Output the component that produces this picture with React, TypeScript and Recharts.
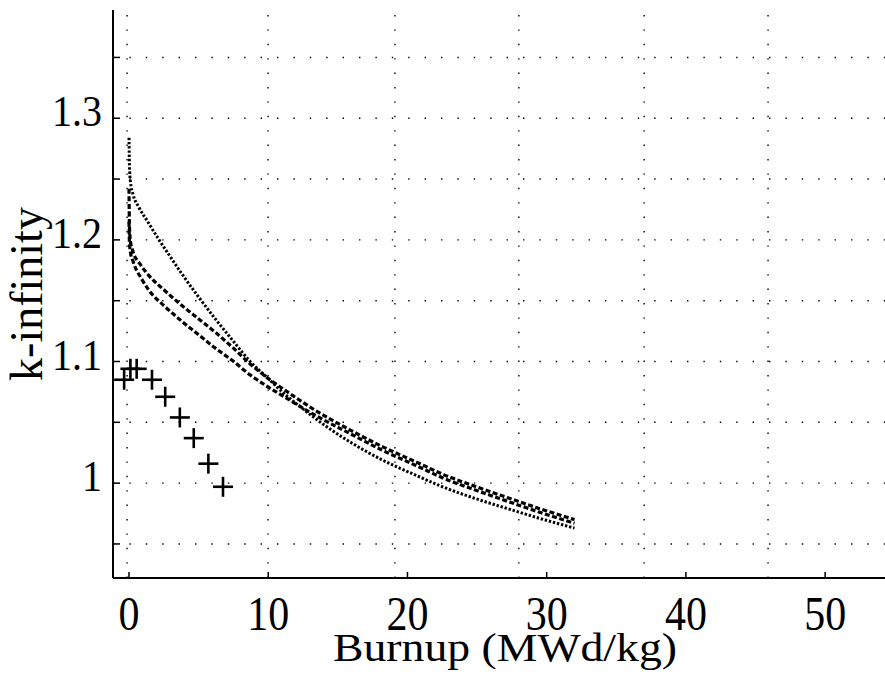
import React from 'react';
import { ComposedChart, Line, Scatter, XAxis, YAxis, ReferenceLine, Label } from 'recharts';

// Dotted curve
const dottedX = [0, 0.03, 0.1, 0.3, 0.7, 1.4, 2.1, 2.8, 3.8, 5, 6.2, 7.4, 8.7, 10, 11, 12.5, 14, 16, 18.2, 20.7, 22.3, 24.7, 27.2, 29.5, 32];
const dottedY = [1.284, 1.262, 1.248, 1.237, 1.227, 1.214, 1.201, 1.189, 1.172, 1.153, 1.135, 1.118, 1.1, 1.086, 1.075, 1.061, 1.048, 1.033, 1.019, 1.006, 0.998, 0.988, 0.979, 0.971, 0.963];

// Upper dashed curve
const dashAX = [0, 0.03, 0.1, 0.3, 0.8, 1.4, 2.6, 3.8, 5, 6.2, 7.4, 8.7, 10, 11, 13.5, 16, 18.2, 20.7, 22.6, 24.7, 27.2, 29.5, 32];
const dashAY = [1.242, 1.212, 1.199, 1.19, 1.18, 1.171, 1.158, 1.146, 1.135, 1.124, 1.112, 1.098, 1.086, 1.078, 1.059, 1.043, 1.03, 1.017, 1.007, 0.998, 0.988, 0.979, 0.97];

// Lower dashed curve
const dashBX = [0, 0.03, 0.1, 0.3, 0.9, 1.4, 2.6, 3.8, 5, 6.2, 7.4, 8.7, 10, 11, 13.5, 16, 18.2, 20.7, 22.6, 24.7, 27.2, 29.5, 32];
const dashBY = [1.215, 1.198, 1.19, 1.182, 1.168, 1.159, 1.145, 1.133, 1.122, 1.111, 1.101, 1.089, 1.079, 1.072, 1.055, 1.04, 1.027, 1.014, 1.004, 0.995, 0.985, 0.976, 0.967];

// Plus markers
const plusX = [-0.35, 0.1, 0.55, 1.65, 2.6, 3.65, 4.65, 5.7, 6.75];
const plusY = [1.085, 1.094, 1.094, 1.085, 1.071, 1.054, 1.037, 1.016, 0.997];

// Axes
const xTicks = [0, 10, 20, 30, 40, 50];
const yTicks = [0.95, 1, 1.05, 1.1, 1.15, 1.2, 1.25, 1.3, 1.35];
const yLabelTicks = [1, 1.1, 1.2, 1.3];
const gridX = [-0.14, 9.99, 19.1, 28.0, 37.0, 45.9];
const gridY = [0.95, 1, 1.05, 1.1, 1.15, 1.2, 1.25, 1.3, 1.35];

const xDomain = [-1.15, 54.3];
const yDomain = [0.922, 1.389];

const toPts = (xs: number[], ys: number[]) => xs.map((x, i) => ({ x, y: ys[i] }));
const dottedData = toPts(dottedX, dottedY);
const dashAData = toPts(dashAX, dashAY);
const dashBData = toPts(dashBX, dashBY);
const plusData = toPts(plusX, plusY);

const FONT = "'Liberation Serif', 'Times New Roman', Times, serif";

const XTick = (props: any) => {
  const { x, y, payload } = props;
  return (
    <g>
      <line x1={x} x2={x} y1={y} y2={y - 6} stroke="#000" strokeWidth={1.5} />
      <text
        transform={`translate(${x}, ${y + 52}) scale(1, 1.14)`}
        textAnchor="middle"
        fontFamily={FONT}
        fontSize={42}
        fill="#000"
      >
        {payload.value}
      </text>
    </g>
  );
};

const TopTick = (props: any) => {
  const { x, y } = props;
  return <line x1={x} x2={x} y1={y} y2={y + 6} stroke="#000" strokeWidth={1.5} />;
};

const YTick = (props: any) => {
  const { x, y, payload } = props;
  const v = payload.value as number;
  const labeled = yLabelTicks.some((t) => Math.abs(t - v) < 1e-6);
  const txt = Math.abs(v - 1) < 1e-6 ? '1' : v.toFixed(1);
  return (
    <g>
      <line x1={x} x2={x + 7} y1={y} y2={y} stroke="#000" strokeWidth={1.5} />
      {labeled && (
        <text
          transform={`translate(${x - 11}, ${y + 8}) scale(1, 1.12)`}
          textAnchor="end"
          fontFamily={FONT}
          fontSize={40}
          fill="#000"
        >
          {txt}
        </text>
      )}
    </g>
  );
};

const PlusShape = (props: any) => {
  const { cx, cy } = props;
  if (cx == null || cy == null) return null;
  const h = 10;
  return (
    <g>
      <line x1={cx - h} x2={cx + h} y1={cy} y2={cy} stroke="#000" strokeWidth={2.6} />
      <line x1={cx} x2={cx} y1={cy - h} y2={cy + h} stroke="#000" strokeWidth={2.6} />
    </g>
  );
};

const XTitle = () => (
  <text x={333} y={661} textLength={344} lengthAdjust="spacingAndGlyphs" fontFamily={FONT} fontSize={41} fill="#000">
    Burnup (MWd/kg)
  </text>
);

const YTitle = () => (
  <text transform="translate(42, 294) rotate(-90)" textAnchor="middle" fontFamily={FONT} fontSize={46} fill="#000">
    k-infinity
  </text>
);

export default function App() {
  return (
    <div style={{ position: 'absolute', left: 0, top: 0, background: '#fff' }}>
      <ComposedChart width={885} height={676} margin={{ top: 10, right: 0, left: 0, bottom: 0 }}>
        <XAxis
          dataKey="x"
          type="number"
          domain={xDomain}
          ticks={xTicks}
          interval={0}
          allowDataOverflow
          height={98}
          tickSize={0}
          tickMargin={0}
          tickLine={false}
          axisLine={{ stroke: '#000', strokeWidth: 2 }}
          tick={<XTick />}
        >
          <Label content={<XTitle />} />
        </XAxis>
        <XAxis
          xAxisId="top"
          orientation="top"
          dataKey="x"
          type="number"
          domain={xDomain}
          ticks={gridX}
          interval={0}
          allowDataOverflow
          height={0}
          tickSize={0}
          tickMargin={0}
          tickLine={false}
          axisLine={{ stroke: '#000', strokeWidth: 2.5 }}
          tick={<TopTick />}
        />
        <YAxis
          dataKey="y"
          type="number"
          domain={yDomain}
          ticks={yTicks}
          interval={0}
          allowDataOverflow
          width={113}
          tickSize={0}
          tickMargin={0}
          tickLine={false}
          axisLine={{ stroke: '#000', strokeWidth: 2 }}
          tick={<YTick />}
        >
          <Label content={<YTitle />} />
        </YAxis>
        {gridY.map((v) => (
          <ReferenceLine key={'gy' + v} y={v} stroke="#000" strokeWidth={1.4} strokeDasharray="1.4 15" />
        ))}
        {gridX.map((v) => (
          <ReferenceLine key={'gx' + v} x={v} stroke="#000" strokeWidth={1.4} strokeDasharray="1.4 13" />
        ))}
        <Line data={dottedData} dataKey="y" type="monotone" stroke="#000" strokeWidth={3} strokeDasharray="2.4 1.8" dot={false} isAnimationActive={false} />
        <Line data={dashAData} dataKey="y" type="monotone" stroke="#000" strokeWidth={3.2} strokeDasharray="5 2.5" dot={false} isAnimationActive={false} />
        <Line data={dashBData} dataKey="y" type="monotone" stroke="#000" strokeWidth={3.2} strokeDasharray="5 2.5" dot={false} isAnimationActive={false} />
        <Scatter data={plusData} dataKey="y" shape={<PlusShape />} isAnimationActive={false} />
      </ComposedChart>
    </div>
  );
}
